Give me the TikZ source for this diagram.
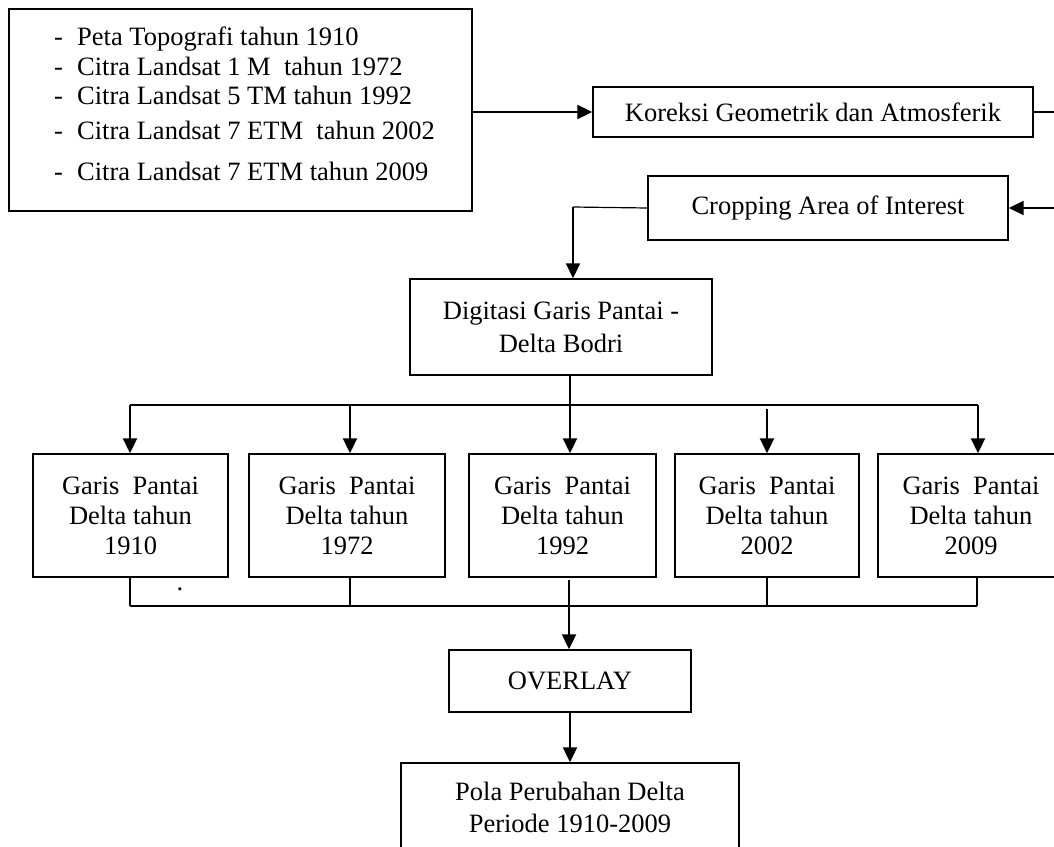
\documentclass[tikz,border=0pt]{standalone}
\usepackage{fontspec}
\setmainfont{Liberation Serif}
\usetikzlibrary{arrows.meta}
\begin{document}
\begin{tikzpicture}[x=1pt,y=-1pt,
  box/.style={draw, line width=1.4pt, inner sep=0pt, align=center, font=\fontsize{26.5}{30}\selectfont},
  thickln/.style={line width=1.8pt},
  thinln/.style={line width=1.2pt},
  arr/.style={line width=2pt, -{Triangle[length=15pt,width=14pt]}},
  txt/.style={inner sep=0pt, anchor=base west, font=\fontsize{26.5}{30}\selectfont}]
\useasboundingbox (0,0) rectangle (1054,846);

% source box
\node[box, minimum width=463pt, minimum height=202pt] (src) at (240.5,110) {};
\node[txt] (l1) at (54,45)  {\makebox[23pt][l]{-}Peta Topografi tahun 1910};
\node[txt] (l2) at (54,75)  {\makebox[23pt][l]{-}Citra Landsat 1 M\ \ tahun 1972};
\node[txt] (l3) at (54,104) {\makebox[23pt][l]{-}Citra Landsat 5 TM tahun 1992};
\node[txt] (l4) at (54,139) {\makebox[23pt][l]{-}Citra Landsat 7 ETM\ \ tahun 2002};
\node[txt] (l5) at (54,180) {\makebox[23pt][l]{-}Citra Landsat 7 ETM tahun 2009};

\node[box, minimum width=440pt, minimum height=50pt] (kor) at (813,112) {Koreksi Geometrik dan Atmosferik};
\node[box, minimum width=360pt, minimum height=64pt] (crop) at (828,208) {Cropping Area of Interest};
\node[box, minimum width=302pt, minimum height=96pt, font=\fontsize{26.5}{33}\selectfont] (dig) at (561,327) {Digitasi Garis Pantai -\\Delta Bodri};

\node[box, minimum width=195pt, minimum height=123pt] (g1) at (130.5,515.5) {Garis\ \ Pantai\\Delta tahun\\1910};
\node[box, minimum width=196pt, minimum height=123pt] (g2) at (347,515.5) {Garis\ \ Pantai\\Delta tahun\\1972};
\node[box, minimum width=187pt, minimum height=123pt] (g3) at (562.5,515.5) {Garis\ \ Pantai\\Delta tahun\\1992};
\node[box, minimum width=184pt, minimum height=123pt] (g4) at (767,515.5) {Garis\ \ Pantai\\Delta tahun\\2002};
\node[box, minimum width=186pt, minimum height=123pt] (g5) at (971,515.5) {Garis\ \ Pantai\\Delta tahun\\2009};

\node[inner sep=0pt, font=\fontsize{26.5}{30}\selectfont] (dot) at (180,589) {.};

\node[box, minimum width=242pt, minimum height=62pt] (ov) at (570,681) {OVERLAY};
\node[box, minimum width=338pt, minimum height=89pt, font=\fontsize{26.5}{32}\selectfont] (pola) at (570,807.5) {Pola Perubahan Delta\\Periode 1910-2009};

% connectors
\draw[arr] (src.east |- kor.west) -- (kor.west);
\coordinate (rt) at (1064,112);
\draw[arr] (kor.east) -- (rt) |- (crop.east);
\coordinate (c1) at (573,207);
\draw[thinln] (crop.west) -- (c1);
\draw[arr] (c1) -- (c1 |- dig.north);

\coordinate (b1) at (130,405);
\coordinate (b2) at (350,405);
\coordinate (b3) at (570,405);
\coordinate (b4) at (767,409);
\coordinate (b5) at (978,405);
\draw[thickln] (b3 |- dig.south) -- (b3);
\draw[thickln] (b1) -- (b5);
\draw[arr] (b1) -- (b1 |- g1.north);
\draw[arr] (b2) -- (b2 |- g2.north);
\draw[arr] (b3) -- (b3 |- g3.north);
\draw[arr] (b4) -- (b4 |- g4.north);
\draw[arr] (b5) -- (b5 |- g5.north);

\coordinate (u1) at (130,606);
\coordinate (u2) at (350,606);
\coordinate (u3) at (569,606);
\coordinate (u4) at (767,606);
\coordinate (u5) at (977,606);
\draw[thinln] (u1) -- (u5);
\draw[thinln] (g1.south -| u1) -- (u1);
\draw[thinln] (g2.south -| u2) -- (u2);
\draw[thinln] (g4.south -| u4) -- (u4);
\draw[thinln] (g5.south -| u5) -- (u5);
\draw[arr] ([yshift=-2pt]u3 |- g3.south) -- (u3 |- ov.north);

\draw[arr] (ov.south) -- (pola.north);
\end{tikzpicture}
\end{document}
